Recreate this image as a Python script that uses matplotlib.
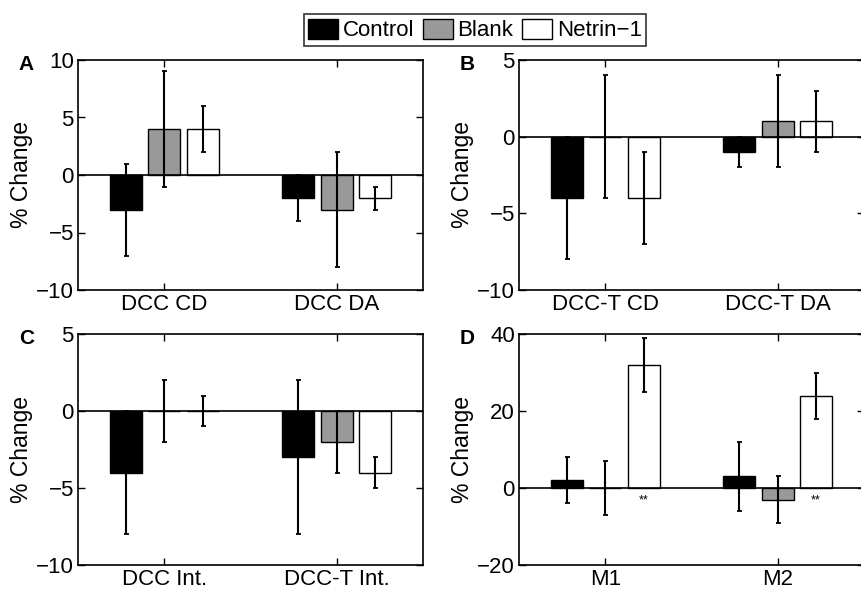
import numpy as np
import matplotlib
matplotlib.use("Agg")
import matplotlib.pyplot as plt
from matplotlib.patches import Patch

plt.rcParams['font.family'] = ['Liberation Sans', 'DejaVu Sans']

# series names and colours
series = ['Control', 'Blank', 'Netrin\u22121']
colors = ['black', '#999999', 'white']

# panel A
a_cats = ['DCC CD', 'DCC DA']
a_vals = [[-3, -2], [4, -3], [4, -2]]
a_errs = [[4, 2], [5, 5], [2, 1]]

# panel B
b_cats = ['DCC-T CD', 'DCC-T DA']
b_vals = [[-4, -1], [0, 1], [-4, 1]]
b_errs = [[4, 1], [4, 3], [3, 2]]

# panel C
c_cats = ['DCC Int.', 'DCC-T Int.']
c_vals = [[-4, -3], [0, -2], [0, -4]]
c_errs = [[4, 5], [2, 2], [1, 1]]

# panel D
d_cats = ['M1', 'M2']
d_vals = [[2, 3], [0, -3], [32, 24]]
d_errs = [[6, 9], [7, 6], [7, 6]]

W, H = 862, 593
fig = plt.figure(figsize=(W / 100, H / 100), dpi=100)


def make_axes(x0, y0, x1, y1):
    return fig.add_axes([x0 / W, 1 - y1 / H, (x1 - x0) / W, (y1 - y0) / H])


def draw_panel(ax, cats, vals, errs, ylim, yticks, label, stars=False):
    x = np.arange(1, len(cats) + 1)
    offs = [-0.222, 0, 0.222]
    for i in range(3):
        xs = x + offs[i]
        ax.bar(xs, vals[i], width=0.185, color=colors[i], edgecolor='black',
               linewidth=1.0, zorder=2)
        ax.errorbar(xs, vals[i], yerr=errs[i], fmt='none', ecolor='black',
                    elinewidth=1.5, capsize=1.8, capthick=1.3, zorder=3)
    ax.axhline(0, color='black', linewidth=1.2, zorder=4)
    if stars:
        for xx in x + offs[2]:
            ax.text(xx, -3.3, '**', ha='center', va='center', fontsize=9)
    ax.set_xlim(0.5, 2.5)
    ax.set_ylim(*ylim)
    ax.set_yticks(yticks)
    ax.set_yticklabels([str(t).replace('-', '\u2212') for t in yticks])
    ax.set_xticks(x)
    ax.set_xticklabels(cats)
    ax.tick_params(direction='in', length=5, width=1, labelsize=16,
                   top=True, right=True, pad=3)
    for s in ax.spines.values():
        s.set_linewidth(1.2)
    ax.set_ylabel('% Change', fontsize=16.5, labelpad=2)
    ax.text(-0.15, 0.98, label, transform=ax.transAxes, fontsize=15,
            fontweight='bold', ha='center', va='center')


axA = make_axes(78, 60, 423, 290)
axB = make_axes(519, 60, 864, 290)
axC = make_axes(78, 334, 423, 565)
axD = make_axes(519, 334, 864, 565)

draw_panel(axA, a_cats, a_vals, a_errs, (-10, 10), [-10, -5, 0, 5, 10], 'A')
draw_panel(axB, b_cats, b_vals, b_errs, (-10, 5), [-10, -5, 0, 5], 'B')
draw_panel(axC, c_cats, c_vals, c_errs, (-10, 5), [-10, -5, 0, 5], 'C')
draw_panel(axD, d_cats, d_vals, d_errs, (-20, 40), [-20, 0, 20, 40], 'D', stars=True)

handles = [Patch(facecolor=c, edgecolor='black', linewidth=1.0) for c in colors]
leg = fig.legend(handles, series, loc='center', bbox_to_anchor=(475 / W, 1 - 30 / H),
                 ncol=3, fontsize=16, frameon=True, fancybox=False,
                 handlelength=1.35, handleheight=1.0, handletextpad=0.2,
                 columnspacing=0.4, borderpad=0.2, borderaxespad=0)
leg.get_frame().set_edgecolor('black')
leg.get_frame().set_linewidth(1.2)

fig.savefig('out.png', dpi=100)
